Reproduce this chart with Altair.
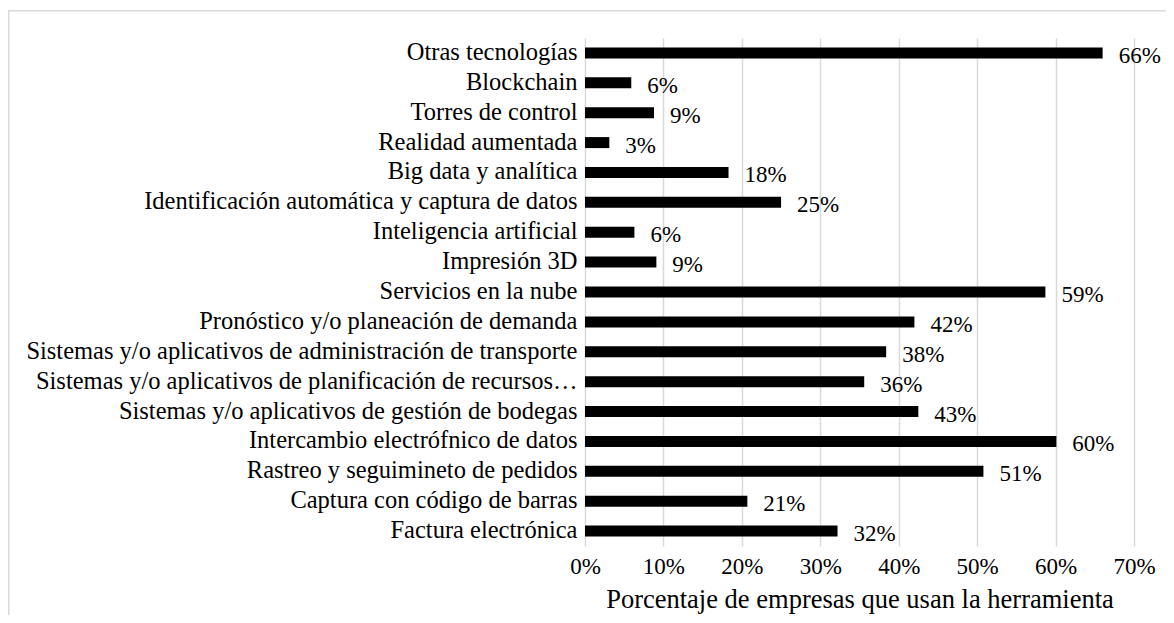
import altair as alt
import pandas as pd

categories = [
    "Otras tecnologías",
    "Blockchain",
    "Torres de control",
    "Realidad aumentada",
    "Big data y analítica",
    "Identificación automática y captura de datos",
    "Inteligencia artificial",
    "Impresión 3D",
    "Servicios en la nube",
    "Pronóstico y/o planeación de demanda",
    "Sistemas y/o aplicativos de administración de transporte",
    "Sistemas y/o aplicativos de planificación de recursos…",
    "Sistemas y/o aplicativos de gestión de bodegas",
    "Intercambio electrófnico de datos",
    "Rastreo y seguimineto de pedidos",
    "Captura con código de barras",
    "Factura electrónica",
]
values = [66.0, 5.9, 8.8, 3.1, 18.3, 25.0, 6.3, 9.1, 58.7, 42.0, 38.4, 35.6, 42.5, 60.1, 50.8, 20.7, 32.2]
labels = ["66%", "6%", "9%", "3%", "18%", "25%", "6%", "9%", "59%", "42%", "38%", "36%", "43%", "60%", "51%", "21%", "32%"]

df = pd.DataFrame({"cat": categories, "val": [v / 100 for v in values], "lab": labels})

FONT = "'Liberation Serif', 'Times New Roman', 'DejaVu Serif', serif"
W, H = 549, 508
PAD_L, PAD_T, PAD_R, PAD_B = 577, 30, 32, 69

x_enc = alt.X(
    "val:Q",
    scale=alt.Scale(domain=[0, 0.7], nice=False),
    axis=alt.Axis(
        format=".0%",
        values=[0, 0.1, 0.2, 0.3, 0.4, 0.5, 0.6, 0.7],
        title="Porcentaje de empresas que usan la herramienta",
        domain=False,
        ticks=False,
        labelFlush=False,
        labelPadding=9,
        labelFontSize=23,
        titlePadding=8,
        titleFontSize=26.5,
        gridColor="#d9d9d9",
        gridWidth=1.5,
    ),
)
y_enc = alt.Y(
    "cat:N",
    sort=categories,
    scale=alt.Scale(paddingInner=0, paddingOuter=0),
    axis=alt.Axis(
        title=None, domain=False, ticks=False, grid=False,
        labelPadding=8, labelLimit=0, labelFontSize=24.5,
    ),
)

bars = alt.Chart(df).mark_bar(color="black", size=11).encode(x=x_enc, y=y_enc)
text = alt.Chart(df).mark_text(
    align="left", baseline="middle", dx=16, dy=3, font=FONT, fontSize=23, color="black"
).encode(x="val:Q", y=alt.Y("cat:N", sort=categories), text="lab:N")

frame_df = pd.DataFrame({"a": [0]})
frame = alt.Chart(frame_df).mark_rect(filled=False, stroke="#d9d9d9", strokeWidth=1.5).encode(
    x=alt.value(-PAD_L + 0.75),
    x2=alt.value(W + PAD_R + 50),
    y=alt.value(-PAD_T + 2.75),
    y2=alt.value(H + PAD_B + 50),
)

chart = (
    alt.layer(frame, bars, text)
    .properties(
        width=W,
        height=H,
        autosize=alt.AutoSizeParams(type="none"),
        padding={"left": PAD_L, "top": PAD_T, "right": PAD_R, "bottom": PAD_B},
    )
    .configure_view(stroke=None)
    .configure_axis(
        labelFont=FONT,
        titleFont=FONT,
        labelColor="black",
        titleColor="black",
        titleFontWeight="normal",
    )
)

chart.save("out.html", embed_options={"renderer": "svg", "actions": False})
